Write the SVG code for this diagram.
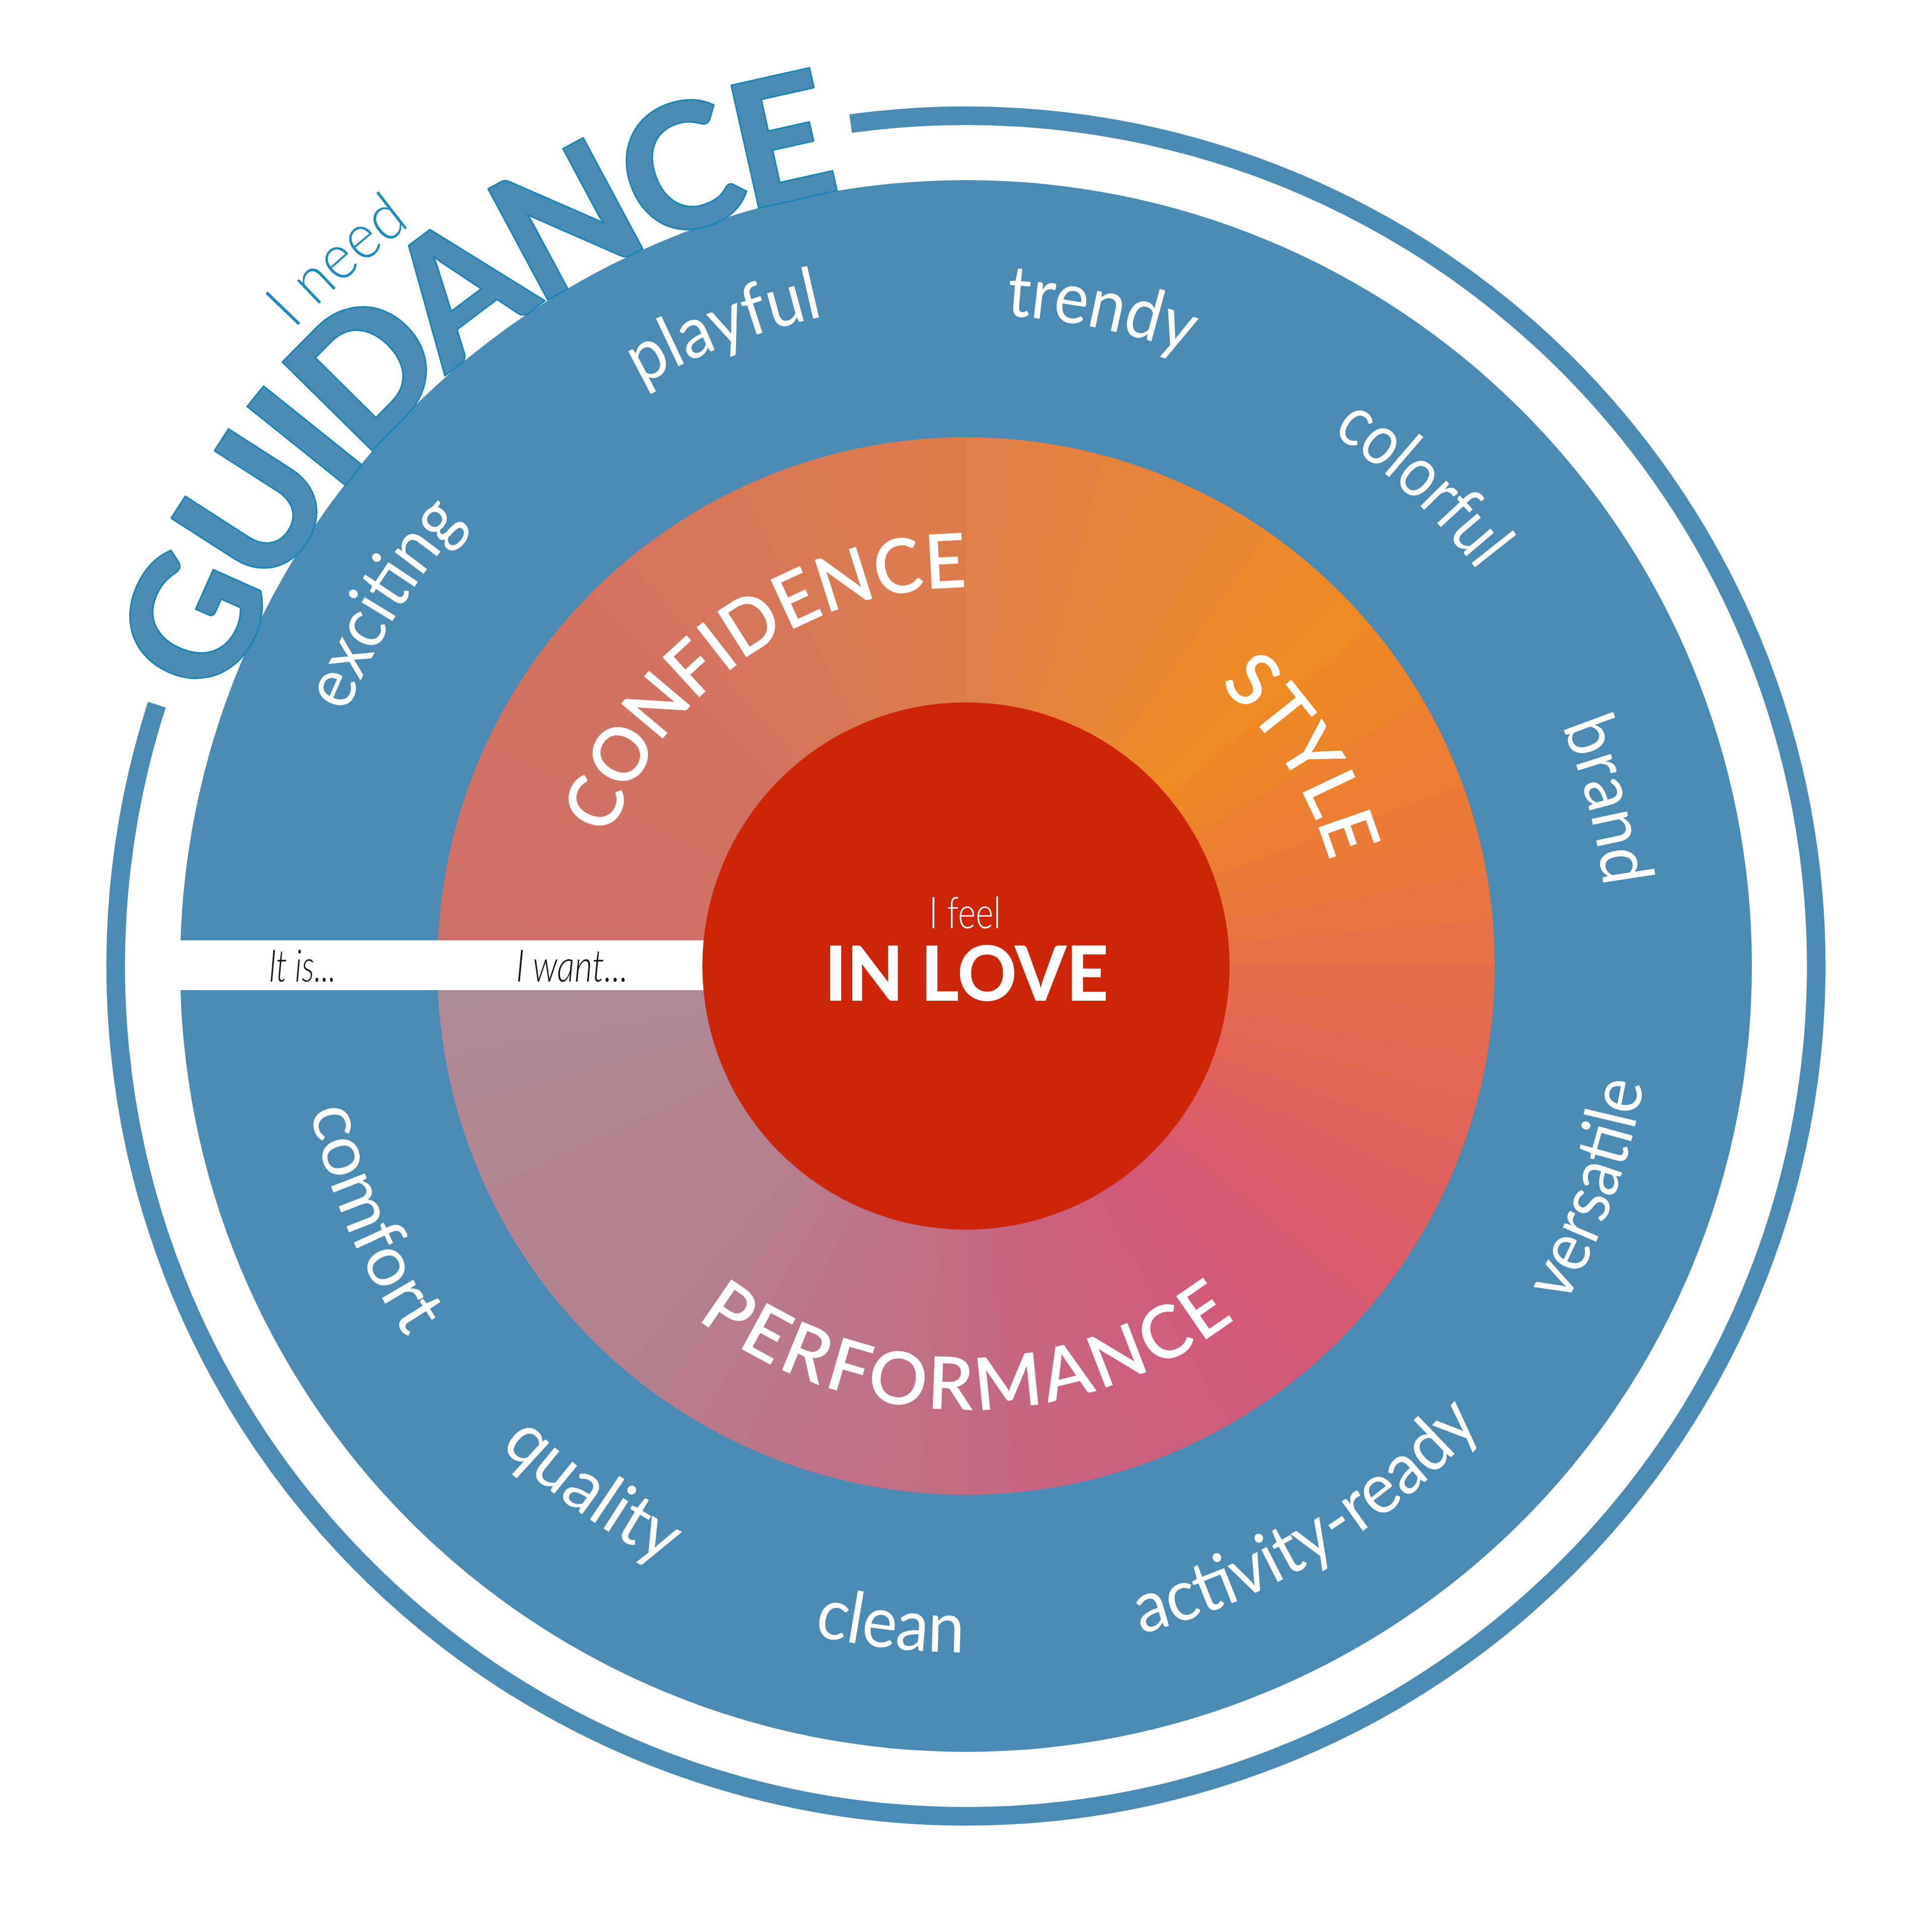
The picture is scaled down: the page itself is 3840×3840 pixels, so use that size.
<svg xmlns="http://www.w3.org/2000/svg" xmlns:xlink="http://www.w3.org/1999/xlink" width="3840" height="3840" viewBox="0 0 3840 3840">
<style>
.w{font-family:Lato,"Open Sans","Liberation Sans",sans-serif;font-size:142px;font-weight:400;fill:#fff}
.h{font-family:Lato,"Open Sans","Liberation Sans",sans-serif;font-size:150px;font-weight:600;fill:#fff}
.p{font-family:Lato,"Open Sans","Liberation Sans",sans-serif;font-size:145px;font-weight:600;fill:#fff}
.g{font-family:Lato,"Open Sans","Liberation Sans",sans-serif;font-size:345px;font-weight:900;fill:#4A8BB6;stroke:#1585B5;stroke-width:3;stroke-linejoin:round}
.n{font-family:Lato,"Open Sans","Liberation Sans",sans-serif;font-size:127px;font-weight:300;fill:#1A8AC0}
.it{font-family:Lato,"Open Sans","Liberation Sans",sans-serif;font-size:88px;font-style:italic;font-weight:300;fill:#151515}
.feel{font-family:Lato,"Open Sans","Liberation Sans",sans-serif;font-size:86px;font-weight:300;fill:#fff}
.love{font-family:Lato,"Open Sans","Liberation Sans",sans-serif;font-size:150px;font-weight:900;fill:#fff}
</style>
<defs>
<path id="wg" d="M1920 1920 L2971 1920 A1051 1051 0 0 1 2966.5 2017.1 Z"/>
<path id="u1330" d="M670.2 1465.1 A1330 1330 0 0 1 3169.8 1465.1"/>
<path id="u1322" d="M677.7 1467.9 A1322 1322 0 0 1 3162.3 1467.9"/>
<path id="u1295" d="M703.1 1477.1 A1295 1295 0 0 1 3136.9 1477.1"/>
<path id="u1285" d="M712.5 1480.5 A1285 1285 0 0 1 3127.5 1480.5"/>
<path id="u1277" d="M720 1483.3 A1277 1277 0 0 1 3120 1483.3"/>
<path id="u752" d="M1213.3 1662.8 A752 752 0 0 1 2626.7 1662.8"/>
<path id="u1560" d="M454.1 1386.5 A1560 1560 0 0 1 3385.9 1386.5"/>
<path id="u1840" d="M191 1290.7 A1840 1840 0 0 1 3649 1290.7"/>
<path id="d1335" d="M665.5 2376.6 A1335 1335 0 0 0 3174.5 2376.6"/>
<path id="d1330" d="M670.2 2374.9 A1330 1330 0 0 0 3169.8 2374.9"/>
<path id="d1364" d="M638.2 2386.5 A1364 1364 0 0 0 3201.8 2386.5"/>
<path id="d1372" d="M630.7 2389.2 A1372 1372 0 0 0 3209.3 2389.2"/>
<path id="d1367" d="M635.4 2387.5 A1367 1367 0 0 0 3204.6 2387.5"/>
<path id="d882" d="M1091.2 2221.6 A882 882 0 0 0 2748.8 2221.6"/>
</defs>
<rect width="3840" height="3840" fill="#fff"/>
<g id="outer-ring"><path d="M1690.7 245.7 A1690 1690 0 1 1 311.8 1400.5" fill="none" stroke="#4A8BB6" stroke-width="37"/></g>
<g id="blue-disc"><circle cx="1920" cy="1920" r="1562" fill="#4A8BB6"/></g>
<g id="guidance" transform="rotate(-39.75 1920 1920)"><text class="g" text-anchor="middle"><textPath href="#u1560" startOffset="50%" textLength="1675" lengthAdjust="spacing">GUIDANCE</textPath></text></g>
<g id="i-need" transform="rotate(-41.7 1920 1920)"><text class="n" text-anchor="middle"><textPath href="#u1840" startOffset="50%" textLength="312" lengthAdjust="spacingAndGlyphs">I need</textPath></text></g>
<g id="gradient-ring">
<use href="#wg" transform="rotate(180 1920 1920)" fill="#CD7068"/>
<use href="#wg" transform="rotate(185 1920 1920)" fill="#CE7066"/>
<use href="#wg" transform="rotate(190 1920 1920)" fill="#CF7166"/>
<use href="#wg" transform="rotate(195 1920 1920)" fill="#CF7164"/>
<use href="#wg" transform="rotate(200 1920 1920)" fill="#D07264"/>
<use href="#wg" transform="rotate(205 1920 1920)" fill="#D17262"/>
<use href="#wg" transform="rotate(210 1920 1920)" fill="#D17261"/>
<use href="#wg" transform="rotate(215 1920 1920)" fill="#D27360"/>
<use href="#wg" transform="rotate(220 1920 1920)" fill="#D3735F"/>
<use href="#wg" transform="rotate(225 1920 1920)" fill="#D4745E"/>
<use href="#wg" transform="rotate(230 1920 1920)" fill="#D5755C"/>
<use href="#wg" transform="rotate(235 1920 1920)" fill="#D67659"/>
<use href="#wg" transform="rotate(240 1920 1920)" fill="#D87757"/>
<use href="#wg" transform="rotate(245 1920 1920)" fill="#D97955"/>
<use href="#wg" transform="rotate(250 1920 1920)" fill="#DA7A53"/>
<use href="#wg" transform="rotate(255 1920 1920)" fill="#DC7B51"/>
<use href="#wg" transform="rotate(260 1920 1920)" fill="#DD7C4E"/>
<use href="#wg" transform="rotate(265 1920 1920)" fill="#DE7D4C"/>
<use href="#wg" transform="rotate(270 1920 1920)" fill="#E07F49"/>
<use href="#wg" transform="rotate(275 1920 1920)" fill="#E28045"/>
<use href="#wg" transform="rotate(280 1920 1920)" fill="#E48141"/>
<use href="#wg" transform="rotate(285 1920 1920)" fill="#E5833C"/>
<use href="#wg" transform="rotate(290 1920 1920)" fill="#E78438"/>
<use href="#wg" transform="rotate(295 1920 1920)" fill="#E98534"/>
<use href="#wg" transform="rotate(300 1920 1920)" fill="#EB8730"/>
<use href="#wg" transform="rotate(305 1920 1920)" fill="#ED882B"/>
<use href="#wg" transform="rotate(310 1920 1920)" fill="#EE8927"/>
<use href="#wg" transform="rotate(315 1920 1920)" fill="#F08A22"/>
<use href="#wg" transform="rotate(320 1920 1920)" fill="#EF8726"/>
<use href="#wg" transform="rotate(325 1920 1920)" fill="#EE842A"/>
<use href="#wg" transform="rotate(330 1920 1920)" fill="#ED802F"/>
<use href="#wg" transform="rotate(335 1920 1920)" fill="#EC7D33"/>
<use href="#wg" transform="rotate(340 1920 1920)" fill="#EB7A37"/>
<use href="#wg" transform="rotate(345 1920 1920)" fill="#EA773C"/>
<use href="#wg" transform="rotate(350 1920 1920)" fill="#E87441"/>
<use href="#wg" transform="rotate(355 1920 1920)" fill="#E77146"/>
<use href="#wg" transform="rotate(360 1920 1920)" fill="#E56E4A"/>
<use href="#wg" transform="rotate(365 1920 1920)" fill="#E46B4F"/>
<use href="#wg" transform="rotate(370 1920 1920)" fill="#E26853"/>
<use href="#wg" transform="rotate(375 1920 1920)" fill="#E16658"/>
<use href="#wg" transform="rotate(380 1920 1920)" fill="#DF635C"/>
<use href="#wg" transform="rotate(385 1920 1920)" fill="#DE6061"/>
<use href="#wg" transform="rotate(390 1920 1920)" fill="#DC5E66"/>
<use href="#wg" transform="rotate(395 1920 1920)" fill="#DA5C6B"/>
<use href="#wg" transform="rotate(400 1920 1920)" fill="#D75B70"/>
<use href="#wg" transform="rotate(405 1920 1920)" fill="#D55975"/>
<use href="#wg" transform="rotate(410 1920 1920)" fill="#D35979"/>
<use href="#wg" transform="rotate(415 1920 1920)" fill="#D15B7A"/>
<use href="#wg" transform="rotate(420 1920 1920)" fill="#CF5D7C"/>
<use href="#wg" transform="rotate(425 1920 1920)" fill="#CC5F7D"/>
<use href="#wg" transform="rotate(430 1920 1920)" fill="#CA617E"/>
<use href="#wg" transform="rotate(435 1920 1920)" fill="#C86380"/>
<use href="#wg" transform="rotate(440 1920 1920)" fill="#C66681"/>
<use href="#wg" transform="rotate(445 1920 1920)" fill="#C46983"/>
<use href="#wg" transform="rotate(450 1920 1920)" fill="#C26C84"/>
<use href="#wg" transform="rotate(455 1920 1920)" fill="#C06F85"/>
<use href="#wg" transform="rotate(460 1920 1920)" fill="#BE7187"/>
<use href="#wg" transform="rotate(465 1920 1920)" fill="#BD7388"/>
<use href="#wg" transform="rotate(470 1920 1920)" fill="#BB7689"/>
<use href="#wg" transform="rotate(475 1920 1920)" fill="#BA788A"/>
<use href="#wg" transform="rotate(480 1920 1920)" fill="#B87A8C"/>
<use href="#wg" transform="rotate(485 1920 1920)" fill="#B67D8D"/>
<use href="#wg" transform="rotate(490 1920 1920)" fill="#B57F8E"/>
<use href="#wg" transform="rotate(495 1920 1920)" fill="#B4818F"/>
<use href="#wg" transform="rotate(500 1920 1920)" fill="#B38290"/>
<use href="#wg" transform="rotate(505 1920 1920)" fill="#B38391"/>
<use href="#wg" transform="rotate(510 1920 1920)" fill="#B28492"/>
<use href="#wg" transform="rotate(515 1920 1920)" fill="#B28693"/>
<use href="#wg" transform="rotate(520 1920 1920)" fill="#B18794"/>
<use href="#wg" transform="rotate(525 1920 1920)" fill="#B08895"/>
<use href="#wg" transform="rotate(530 1920 1920)" fill="#B08996"/>
<use href="#wg" transform="rotate(535 1920 1920)" fill="#AF8A97"/>
</g>
<g id="band">
<rect x="340" y="1869" width="1100" height="99" fill="#fff"/>
<text class="it" x="601" y="1951" text-anchor="middle" textLength="134" lengthAdjust="spacingAndGlyphs">It is...</text>
<text class="it" x="1137" y="1951" text-anchor="middle" textLength="223" lengthAdjust="spacingAndGlyphs">I want...</text>
</g>
<g id="core">
<circle cx="1920" cy="1920" r="524" fill="#CE2509"/>
<text class="feel" x="1918" y="1845" text-anchor="middle" textLength="143" lengthAdjust="spacingAndGlyphs">I feel</text>
<text class="love" x="1921" y="1989" text-anchor="middle" textLength="564" lengthAdjust="spacingAndGlyphs">IN LOVE</text>
</g>
<g id="confidence" transform="rotate(-34.9 1920 1920)"><text class="h" text-anchor="middle"><textPath href="#u752" startOffset="50%" textLength="921" lengthAdjust="spacingAndGlyphs">CONFIDENCE</textPath></text></g>
<g id="style" transform="rotate(58 1920 1920)"><text class="h" text-anchor="middle"><textPath href="#u752" startOffset="50%" textLength="420" lengthAdjust="spacingAndGlyphs">STYLE</textPath></text></g>
<g id="performance"><text class="p" text-anchor="middle"><textPath href="#d882" startOffset="50%" textLength="1150" lengthAdjust="spacing">PERFORMANCE</textPath></text></g>
<g id="word-exciting" transform="rotate(-58.1 1920 1920)"><text class="w" text-anchor="middle"><textPath href="#u1330" startOffset="50%" textLength="450" lengthAdjust="spacingAndGlyphs">exciting</textPath></text></g>
<g id="word-playful" transform="rotate(-20.8 1920 1920)"><text class="w" text-anchor="middle"><textPath href="#u1322" startOffset="50%" textLength="390" lengthAdjust="spacingAndGlyphs">playful</textPath></text></g>
<g id="word-trendy" transform="rotate(11.7 1920 1920)"><text class="w" text-anchor="middle"><textPath href="#u1295" startOffset="50%" textLength="370" lengthAdjust="spacingAndGlyphs">trendy</textPath></text></g>
<g id="word-colorful" transform="rotate(43.4 1920 1920)"><text class="w" text-anchor="middle"><textPath href="#u1285" startOffset="50%" textLength="400" lengthAdjust="spacingAndGlyphs">colorful</textPath></text></g>
<g id="word-brand" transform="rotate(75.5 1920 1920)"><text class="w" text-anchor="middle"><textPath href="#u1277" startOffset="50%" textLength="332" lengthAdjust="spacingAndGlyphs">brand</textPath></text></g>
<g id="word-versatile" transform="rotate(-70.35 1920 1920)"><text class="w" text-anchor="middle"><textPath href="#d1367" startOffset="50%" textLength="470" lengthAdjust="spacingAndGlyphs">versatile</textPath></text></g>
<g id="word-activity-ready" transform="rotate(-31.5 1920 1920)"><text class="w" text-anchor="middle"><textPath href="#d1372" startOffset="50%" textLength="805" lengthAdjust="spacingAndGlyphs">activity-ready</textPath></text></g>
<g id="word-clean" transform="rotate(6.5 1920 1920)"><text class="w" text-anchor="middle"><textPath href="#d1364" startOffset="50%" textLength="302" lengthAdjust="spacingAndGlyphs">clean</textPath></text></g>
<g id="word-quality" transform="rotate(35.4 1920 1920)"><text class="w" text-anchor="middle"><textPath href="#d1330" startOffset="50%" textLength="405" lengthAdjust="spacingAndGlyphs">quality</textPath></text></g>
<g id="word-comfort" transform="rotate(67 1920 1920)"><text class="w" text-anchor="middle"><textPath href="#d1335" startOffset="50%" textLength="494" lengthAdjust="spacingAndGlyphs">comfort</textPath></text></g>
</svg>
